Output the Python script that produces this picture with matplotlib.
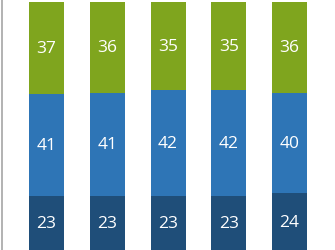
import matplotlib.pyplot as plt
import numpy as np

# values per segment (bottom to top), drawn as 100% stacked
bottom = [23, 23, 23, 23, 24]
middle = [41, 41, 42, 42, 40]
top = [37, 36, 35, 35, 36]

col_bottom = "#1f4e79"
col_middle = "#2e75b6"
col_top = "#7fa51e"

total = np.add(np.add(bottom, middle), top)
pb = np.array(bottom) / total * 100
pm = np.array(middle) / total * 100
pt = np.array(top) / total * 100

fig = plt.figure(figsize=(3.35, 2.51), dpi=100)
ax = fig.add_axes([1.5 / 335, 0, 1 - 1.5 / 335, 1])

x = np.arange(len(bottom))
w = 0.576
b1 = ax.bar(x, pb, w, color=col_bottom)
b2 = ax.bar(x, pm, w, bottom=pb, color=col_middle)
b3 = ax.bar(x, pt, w, bottom=pb + pm, color=col_top)

for bars, vals in ((b1, bottom), (b2, middle), (b3, top)):
    ax.bar_label(bars, labels=[str(v) for v in vals], label_type="center",
                 color="white", fontsize=12.5, family="Open Sans")

ax.set_xlim(-0.741, 4.749)
ax.set_ylim(1.39, 101.2)
ax.set_xticks([])
ax.set_yticks([])
for s in ("top", "right", "bottom"):
    ax.spines[s].set_visible(False)
ax.spines["left"].set_color("#a6a6a6")
ax.spines["left"].set_linewidth(1.2)

fig.savefig("out.png", dpi=100)
